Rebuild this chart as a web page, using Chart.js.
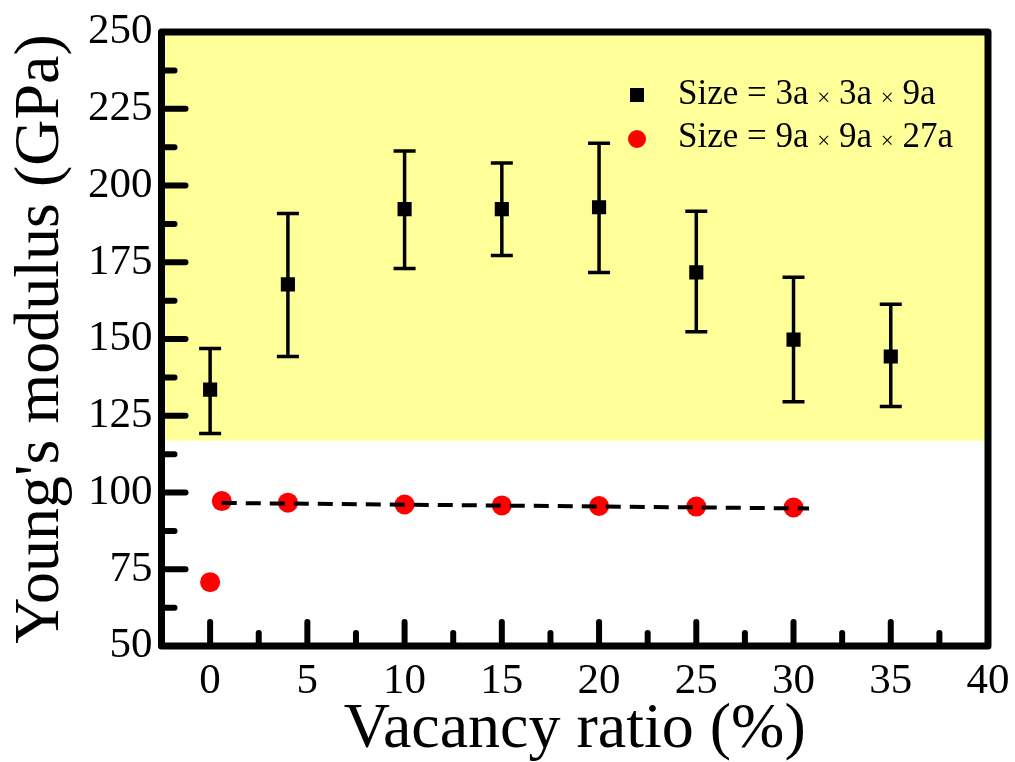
<!DOCTYPE html>
<html lang="en">
<head>
<meta charset="UTF-8">
<title>Young's modulus vs vacancy ratio</title>
<script src="https://cdn.jsdelivr.net/npm/chart.js"></script>
<style>
  html, body { margin: 0; padding: 0; background: #fff; }
  #wrap { width: 1015px; height: 762px; }
</style>
</head>
<body>
<div id="wrap"><canvas id="modulusChart" width="1015" height="762"></canvas></div>
<script>
// values
const smallVacancy = [0, 4, 10, 15, 20, 25, 30, 35];
const smallModulus = [133.5, 167.8, 192.3, 192.3, 192.9, 171.7, 149.8, 144.3];
const smallErrLow  = [119.2, 144.3, 173.0, 177.2, 171.7, 152.4, 129.6, 128.0];
const smallErrHigh = [146.9, 190.9, 211.2, 207.3, 213.8, 191.6, 170.1, 161.3];

const largeVacancy = [0, 0.6, 4, 10, 15, 20, 25, 30];
const largeModulus = [70.8, 97.2, 96.7, 96.1, 95.8, 95.6, 95.4, 95.1];

// dashed fit through the 9a x 9a x 27a points
const fitVacancy = [0.6, 30.8];
const fitModulus = [96.6, 94.8];

const xTickLabels = [0, 5, 10, 15, 20, 25, 30, 35, 40];
const yTickLabels = [50, 75, 100, 125, 150, 175, 200, 225, 250];
const shadedBand = [116.9, 250];

const seriesLabels = ['Size = 3a \u00d7 3a \u00d7 9a', 'Size = 9a \u00d7 9a \u00d7 27a'];

const serif = "'Liberation Serif', 'Times New Roman', serif";

function toPoints(xs, ys) {
    return xs.map((x, i) => ({ x: x, y: ys[i] }));
}

// yellow band behind the data
const bandPlugin = {
    id: 'band',
    beforeDatasetsDraw(chart) {
        const { ctx, chartArea, scales } = chart;
        const yTop = scales.y.getPixelForValue(shadedBand[1]);
        const yBot = scales.y.getPixelForValue(shadedBand[0]);
        ctx.save();
        ctx.fillStyle = '#ffff99';
        ctx.fillRect(chartArea.left, yTop, chartArea.right - chartArea.left, yBot - yTop);
        ctx.restore();
    }
};

// vertical error bars with caps
const errorBarPlugin = {
    id: 'errorBars',
    afterDatasetsDraw(chart) {
        const { ctx, scales } = chart;
        ctx.save();
        ctx.strokeStyle = '#000';
        ctx.lineWidth = 3.5;
        smallVacancy.forEach((v, i) => {
            const x = scales.x.getPixelForValue(v);
            const yl = scales.y.getPixelForValue(smallErrLow[i]);
            const yh = scales.y.getPixelForValue(smallErrHigh[i]);
            ctx.beginPath();
            ctx.moveTo(x, yl); ctx.lineTo(x, yh);
            ctx.moveTo(x - 11, yl); ctx.lineTo(x + 11, yl);
            ctx.moveTo(x - 11, yh); ctx.lineTo(x + 11, yh);
            ctx.stroke();
        });
        ctx.restore();
    }
};

// thick frame and inward major/minor ticks
const framePlugin = {
    id: 'frame',
    afterDraw(chart) {
        const { ctx, chartArea: a, scales } = chart;
        ctx.save();
        ctx.strokeStyle = '#000';
        ctx.lineCap = 'round';
        ctx.lineWidth = 6;
        const tick = (x1, y1, x2, y2) => { ctx.beginPath(); ctx.moveTo(x1, y1); ctx.lineTo(x2, y2); ctx.stroke(); };
        xTickLabels.forEach((v, i) => {
            const x = scales.x.getPixelForValue(v);
            tick(x, a.bottom, x, a.bottom - 24);
            if (i < xTickLabels.length - 1) {
                const xm = scales.x.getPixelForValue(v + 2.5);
                tick(xm, a.bottom, xm, a.bottom - 13);
            }
        });
        yTickLabels.forEach((v, i) => {
            const y = scales.y.getPixelForValue(v);
            tick(a.left, y, a.left + 24, y);
            if (i < yTickLabels.length - 1) {
                const ym = scales.y.getPixelForValue(v + 12.5);
                tick(a.left, ym, a.left + 13, ym);
            }
        });
        ctx.lineCap = 'butt';
        ctx.lineJoin = 'round';
        ctx.lineWidth = 7;
        ctx.strokeRect(a.left, a.top, a.right - a.left, a.bottom - a.top);
        ctx.restore();
    }
};

// legend inside the plot, with small multiplication signs
const legendPlugin = {
    id: 'insideLegend',
    afterDraw(chart) {
        const { ctx, chartArea: a } = chart;
        const x0 = a.right - 351;
        const rows = [a.top + 63, a.top + 106];
        ctx.save();
        ctx.textBaseline = 'middle';
        ctx.fillStyle = '#000';
        ctx.fillRect(x0 - 7, rows[0] - 7, 14, 14);
        ctx.fillStyle = '#ff0000';
        ctx.beginPath();
        ctx.arc(x0, rows[1] + 1, 9, 0, Math.PI * 2);
        ctx.fill();
        ctx.fillStyle = '#000';
        seriesLabels.forEach((label, r) => {
            let x = x0 + 41;
            const parts = label.split('\u00d7');
            parts.forEach((part, k) => {
                ctx.font = '35px ' + serif;
                ctx.fillText(part, x, rows[r]);
                x += ctx.measureText(part).width;
                if (k < parts.length - 1) {
                    ctx.font = '23px ' + serif;
                    ctx.fillText('\u00d7', x, rows[r] + 4);
                    x += ctx.measureText('\u00d7').width;
                }
            });
        });
        ctx.restore();
    }
};

const config = {
    type: 'scatter',
    data: {
        datasets: [
            {
                type: 'line',
                label: '',
                data: toPoints(fitVacancy, fitModulus),
                borderColor: '#000',
                borderWidth: 4,
                borderDash: [15, 9],
                pointRadius: 0,
                fill: false,
                order: 0
            },
            {
                label: seriesLabels[0],
                data: toPoints(smallVacancy, smallModulus),
                pointStyle: 'rect',
                pointRadius: 10,
                backgroundColor: '#000',
                borderColor: '#000',
                borderWidth: 0,
                order: 1
            },
            {
                label: seriesLabels[1],
                data: toPoints(largeVacancy, largeModulus),
                pointStyle: 'circle',
                pointRadius: 10,
                backgroundColor: '#ff0000',
                borderColor: '#ff0000',
                borderWidth: 0,
                order: 2
            }
        ]
    },
    options: {
        responsive: false,
        animation: false,
        layout: { padding: { top: 32, right: 27, left: 9, bottom: 0 } },
        plugins: {
            legend: { display: false },
            tooltip: { enabled: false }
        },
        scales: {
            x: {
                type: 'linear',
                min: -2.5,
                max: 40,
                afterBuildTicks: (scale) => { scale.ticks = xTickLabels.map(v => ({ value: v })); },
                // the "40" label may hang past the frame, as in the figure
                afterFit: (scale) => { scale.paddingRight = 20; },
                grid: { display: false, drawTicks: false },
                border: { display: false },
                ticks: { color: '#000', padding: 14, font: { family: serif, size: 43, lineHeight: 1 } },
                title: {
                    display: true,
                    text: 'Vacancy ratio (%)',
                    color: '#000',
                    padding: { top: -19, bottom: 0 },
                    font: { family: serif, size: 64, lineHeight: 1 }
                }
            },
            y: {
                min: 50,
                max: 250,
                afterBuildTicks: (scale) => { scale.ticks = yTickLabels.map(v => ({ value: v })); },
                grid: { display: false, drawTicks: false },
                border: { display: false },
                ticks: { color: '#000', padding: 9, font: { family: serif, size: 43, lineHeight: 1 } },
                title: {
                    display: true,
                    text: "Young's modulus (GPa)",
                    color: '#000',
                    padding: { top: 0, bottom: 6 },
                    font: { family: serif, size: 64, lineHeight: 1 }
                }
            }
        }
    },
    plugins: [bandPlugin, errorBarPlugin, framePlugin, legendPlugin]
};

window.onload = function () {
    const ctx = document.getElementById('modulusChart').getContext('2d');
    new Chart(ctx, config);
};
</script>
</body>
</html>
